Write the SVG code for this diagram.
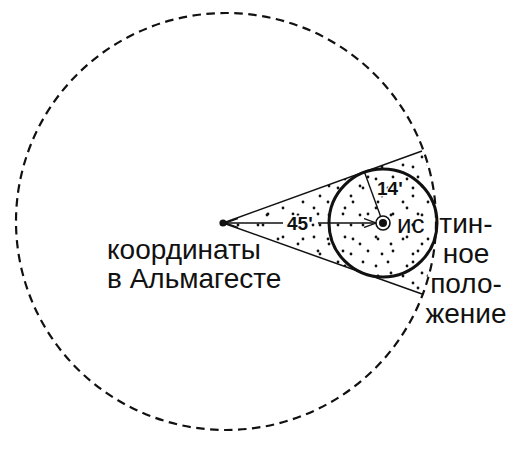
<svg xmlns="http://www.w3.org/2000/svg" width="520" height="450" viewBox="0 0 520 450">
<style>
.lbl{font-family:"Liberation Sans",Arial,sans-serif;font-size:28px;fill:#111}
.num{font-family:"Liberation Sans",Arial,sans-serif;font-size:19px;font-weight:bold;fill:#111;stroke:#fff;stroke-width:3;paint-order:stroke}
.ln{stroke:#111;fill:none}
.dot{fill:#111}
</style>
<defs>
<pattern id="dA" patternUnits="userSpaceOnUse" width="31" height="29">
<circle class="dot" cx="4" cy="5" r="1.4"/>
<circle class="dot" cx="19" cy="12" r="1.4"/>
<circle class="dot" cx="10" cy="22" r="1.4"/>
</pattern>
<pattern id="dB" patternUnits="userSpaceOnUse" width="25" height="37">
<circle class="dot" cx="13" cy="3" r="1.4"/>
<circle class="dot" cx="3" cy="17" r="1.4"/>
<circle class="dot" cx="18" cy="29" r="1.4"/>
</pattern>
<clipPath id="region">
<path d="M223,223 L422,151 A209,209 0 0 1 422,294 Z"/>
<circle cx="383" cy="223" r="54"/>
</clipPath>
<marker id="arr" viewBox="0 0 12 10" refX="12" refY="5" markerWidth="12" markerHeight="10" markerUnits="userSpaceOnUse" orient="auto-start-reverse">
<path d="M0,0.5 L12,5 L0,9.5" fill="none" stroke="#111" stroke-width="1.3"/>
</marker>
</defs>
<rect width="520" height="450" fill="#fff"/>
<g id="stipple" clip-path="url(#region)">
<rect x="220" y="145" width="220" height="155" fill="url(#dA)"/>
<rect x="220" y="145" width="220" height="155" fill="url(#dB)"/>
</g>
<g id="orbit">
<ellipse cx="226" cy="221.5" rx="210" ry="208.5" class="ln" stroke-width="2.2" stroke-dasharray="8.5,5.5"/>
</g>
<g id="connectors">
<line x1="223" y1="223" x2="422" y2="151" class="ln" stroke-width="1.5"/>
<line x1="223" y1="223" x2="422" y2="294" class="ln" stroke-width="1.5"/>
<line x1="383" y1="223" x2="364.5" y2="172.3" class="ln" stroke-width="1.4"/>
<line x1="283" y1="223" x2="226" y2="223" class="ln" stroke-width="1.3" marker-end="url(#arr)"/>
<line x1="318" y1="223" x2="376" y2="223" class="ln" stroke-width="1.3" marker-end="url(#arr)"/>
</g>
<g id="disk">
<circle cx="383" cy="223" r="54" class="ln" stroke-width="3"/>
</g>
<g id="true-position">
<circle cx="383" cy="223" r="7" fill="#fff" stroke="#111" stroke-width="1.6"/>
<circle cx="383" cy="223" r="4" fill="#111"/>
</g>
<g id="almagest-point">
<circle cx="223" cy="223" r="3.6" fill="#111"/>
</g>
<g id="labels">
<text class="num" x="287" y="230">45'</text>
<text class="num" x="377" y="195">14'</text>
<text class="lbl" x="107" y="259">координаты</text>
<text class="lbl" x="107" y="288">в Альмагесте</text>
<text class="lbl" x="397" y="233" style="font-size:26px">ис</text>
<text class="lbl" x="466" y="233" text-anchor="middle">тин-</text>
<text class="lbl" x="466" y="263" text-anchor="middle">ное</text>
<text class="lbl" x="466" y="293" text-anchor="middle">поло-</text>
<text class="lbl" x="466" y="323" text-anchor="middle">жение</text>
</g>
</svg>
